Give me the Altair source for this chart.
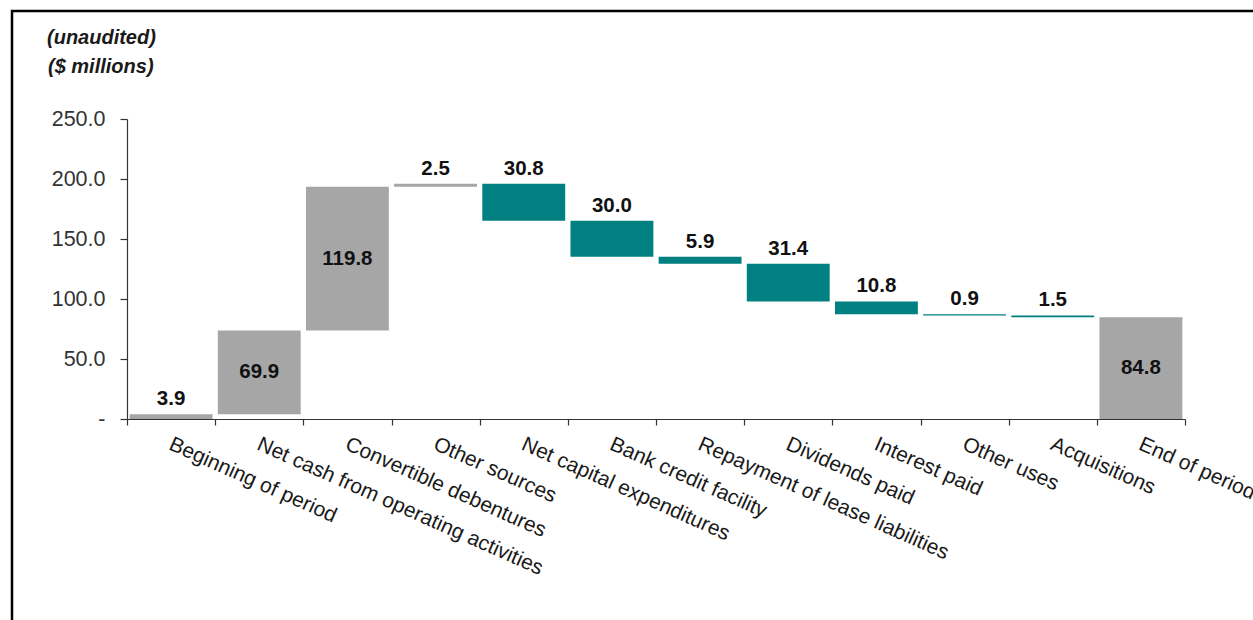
import altair as alt
import pandas as pd

categories = [
    "Beginning of period",
    "Net cash from operating activities",
    "Convertible debentures",
    "Other sources",
    "Net capital expenditures",
    "Bank credit facility",
    "Repayment of lease liabilities",
    "Dividends paid",
    "Interest paid",
    "Other uses",
    "Acquisitions",
    "End of period",
]
amounts = [3.9, 69.9, 119.8, 2.5, -30.8, -30.0, -5.9, -31.4, -10.8, -0.9, -1.5, 84.8]
kinds = ["total", "step", "step", "step", "step", "step", "step", "step",
         "step", "step", "step", "total"]
y_ticks = [0, 50, 100, 150, 200, 250]
title_lines = ["(unaudited)", "($ millions)"]

rows = []
running = 0.0
for cat, amt, kind in zip(categories, amounts, kinds):
    if kind == "total":
        start, end = 0.0, amt
        running = amt
    else:
        start = running
        end = running + amt
        running = end
    rows.append({
        "category": cat,
        "start": start,
        "end": end,
        "top": max(start, end),
        "mid": (start + end) / 2,
        "label": f"{abs(amt):.1f}",
        "inside": abs(amt) >= 50,
        "group": "use" if amt < 0 else "gain",
    })
df = pd.DataFrame(rows)

FONT = "Liberation Sans"

x_enc = alt.X(
    "category:N", sort=categories, title=None,
    scale=alt.Scale(paddingInner=0, paddingOuter=0),
    axis=alt.Axis(
        labelAngle=24, labelAlign="left", labelBaseline="top",
        labelFont=FONT, labelFontSize=21, labelColor="#1a1a1a",
        labelPadding=8, labelOffset=3, labelLimit=600, labelOverlap=False,
        tickBand="extent", tickSize=6, tickColor="#333333",
        domainColor="#333333", domainWidth=1.2, tickWidth=1.2,
    ),
)
y_scale = alt.Scale(domain=[0, 250], nice=False)
y_axis = alt.Axis(
    values=y_ticks,
    labelExpr="datum.value == 0 ? '-\u00a0\u00a0' : format(datum.value, '.1f')",
    labelFont=FONT, labelFontSize=21.5, labelColor="#333333",
    labelPadding=15, tickSize=7, tickColor="#333333",
    domainColor="#333333", domainWidth=1.2, tickWidth=1.2,
    grid=False, title=None,
)

base = alt.Chart(df)

bars = base.mark_bar(width=alt.RelativeBandSize(0.94)).encode(
    x=x_enc,
    y=alt.Y("start:Q", scale=y_scale, axis=y_axis),
    y2="end:Q",
    color=alt.Color("group:N",
                    scale=alt.Scale(domain=["gain", "use"], range=["#A6A6A6", "#008080"]),
                    legend=None),
)

text_in = base.transform_filter("datum.inside").mark_text(
    font=FONT, fontSize=20.5, fontWeight="bold", color="#111111", baseline="middle"
).encode(x=alt.X("category:N", sort=categories), y=alt.Y("mid:Q", scale=y_scale), text="label:N")

text_out = base.transform_filter("!datum.inside").mark_text(
    font=FONT, fontSize=20.5, fontWeight="bold", color="#111111", baseline="bottom", dy=-5
).encode(x=alt.X("category:N", sort=categories), y=alt.Y("top:Q", scale=y_scale), text="label:N")

frame = alt.Chart(pd.DataFrame({"a": [0]})).mark_rect(
    filled=False, stroke="black", strokeWidth=2.5
).encode(
    x=alt.value(-115), x2=alt.value(1150),
    y=alt.value(-108), y2=alt.value(520),
)

title1 = alt.Chart(pd.DataFrame({"t": [title_lines[0]]})).mark_text(
    font=FONT, fontSize=20, fontWeight="bold", fontStyle="italic",
    color="#1a1a1a", align="left", baseline="middle"
).encode(x=alt.value(-80), y=alt.value(-81), text="t:N")

title2 = alt.Chart(pd.DataFrame({"t": [title_lines[1]]})).mark_text(
    font=FONT, fontSize=20, fontWeight="bold", fontStyle="italic",
    color="#1a1a1a", align="left", baseline="middle"
).encode(x=alt.value(-79), y=alt.value(-52), text="t:N")

chart = alt.layer(bars, text_in, text_out, frame, title1, title2).properties(
    width=1058,
    height=300,
    autosize=alt.AutoSizeParams(type="none"),
    padding={"left": 127, "top": 119, "right": 68, "bottom": 201},
).configure(
    background="white",
    view=alt.ViewConfig(strokeWidth=0, stroke="transparent"),
)

chart.save("out.html", embed_options={"renderer": "svg", "actions": False})
